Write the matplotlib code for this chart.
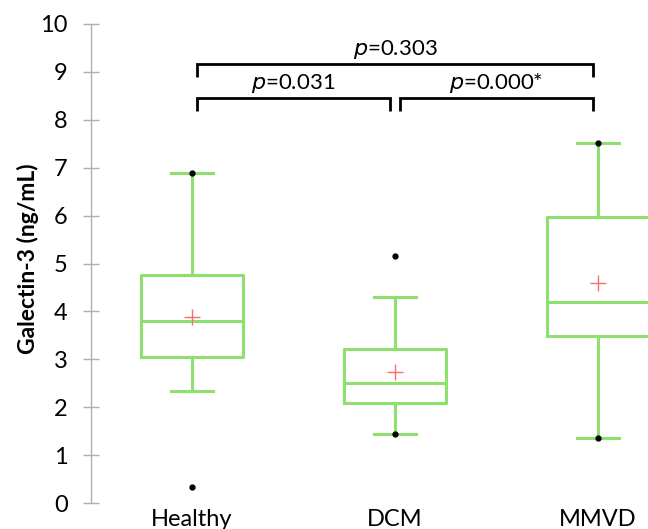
import matplotlib
matplotlib.use("Agg")
import matplotlib.pyplot as plt

# Box plot summary (ng/mL)
groups = ["Healthy", "DCM", "MMVD"]
q1 = [3.04, 2.08, 3.49]
medians = [3.80, 2.50, 4.20]
q3 = [4.77, 3.21, 5.98]
whisk_lo = [2.33, 1.45, 1.35]
whisk_hi = [6.88, 4.30, 7.51]
means = [3.89, 2.74, 4.60]
mins = [0.34, 1.45, 1.35]
maxs = [6.88, 5.16, 7.51]

# pairwise comparisons: (group a, group b, p value label)
comparisons = [(0, 1, "0.031"), (1, 2, "0.000*"), (0, 2, "0.303")]

green = "#8ee06e"
plt.rcParams["font.family"] = ["Lato", "DejaVu Sans"]

fig = plt.figure(figsize=(6.48, 5.29), dpi=100)
ax = fig.add_axes([91 / 648, 1 - 503 / 529, 1 - 91 / 648, (503 - 24) / 529])

stats = []
for i, g in enumerate(groups):
    stats.append({"label": g, "q1": q1[i], "med": medians[i], "q3": q3[i],
                  "whislo": whisk_lo[i], "whishi": whisk_hi[i], "fliers": []})

pos = list(range(len(groups)))
line_kw = dict(color=green, linewidth=2.2)
ax.bxp(stats, positions=pos, widths=0.5, capwidths=0.21, showfliers=False,
       boxprops=line_kw, whiskerprops=line_kw, capprops=line_kw,
       medianprops=line_kw)

# mean (+) and min / max (dots)
ax.plot(pos, means, linestyle="none", marker="+", markersize=12,
        markeredgewidth=1.0, color="#ff6b6b", zorder=5)
ax.plot(pos, mins, linestyle="none", marker="o", markersize=3.5, color="black", zorder=6)
ax.plot(pos, maxs, linestyle="none", marker="o", markersize=3.5, color="black", zorder=6)

# significance brackets
for a, b, lab in comparisons:
    y = 9.16 if (b - a) == 2 else 8.46
    xs = [a + 0.025, a + 0.025, b - 0.025, b - 0.025]
    ax.plot(xs, [y - 0.27, y, y, y - 0.27], color="black", linewidth=2.0,
            clip_on=False, solid_capstyle="butt", solid_joinstyle="miter")
    ax.text((a + b) / 2, y + 0.06, r"$\mathit{p}$" + "=" + lab, ha="center",
            va="bottom", fontsize=16)

ax.set_xlim(-0.4975, 2.246)
ax.set_ylim(0, 10)
ax.set_yticks(range(0, 11))
ax.set_xticks(pos)
ax.set_xticklabels(groups)
ax.set_ylabel("Galectin-3 (ng/mL)", fontsize=16.5, fontweight="bold")
ax.yaxis.set_label_coords(-0.094, 0.51)

for s in ["top", "right", "bottom"]:
    ax.spines[s].set_visible(False)
ax.spines["left"].set_color("#b0b0b0")
ax.spines["left"].set_linewidth(1.0)
ax.tick_params(axis="y", direction="inout", length=11.5, width=1.0,
               color="#b0b0b0", labelsize=17, pad=11)
ax.tick_params(axis="x", length=0, labelsize=17, pad=4)

fig.savefig("out.png", dpi=100)
